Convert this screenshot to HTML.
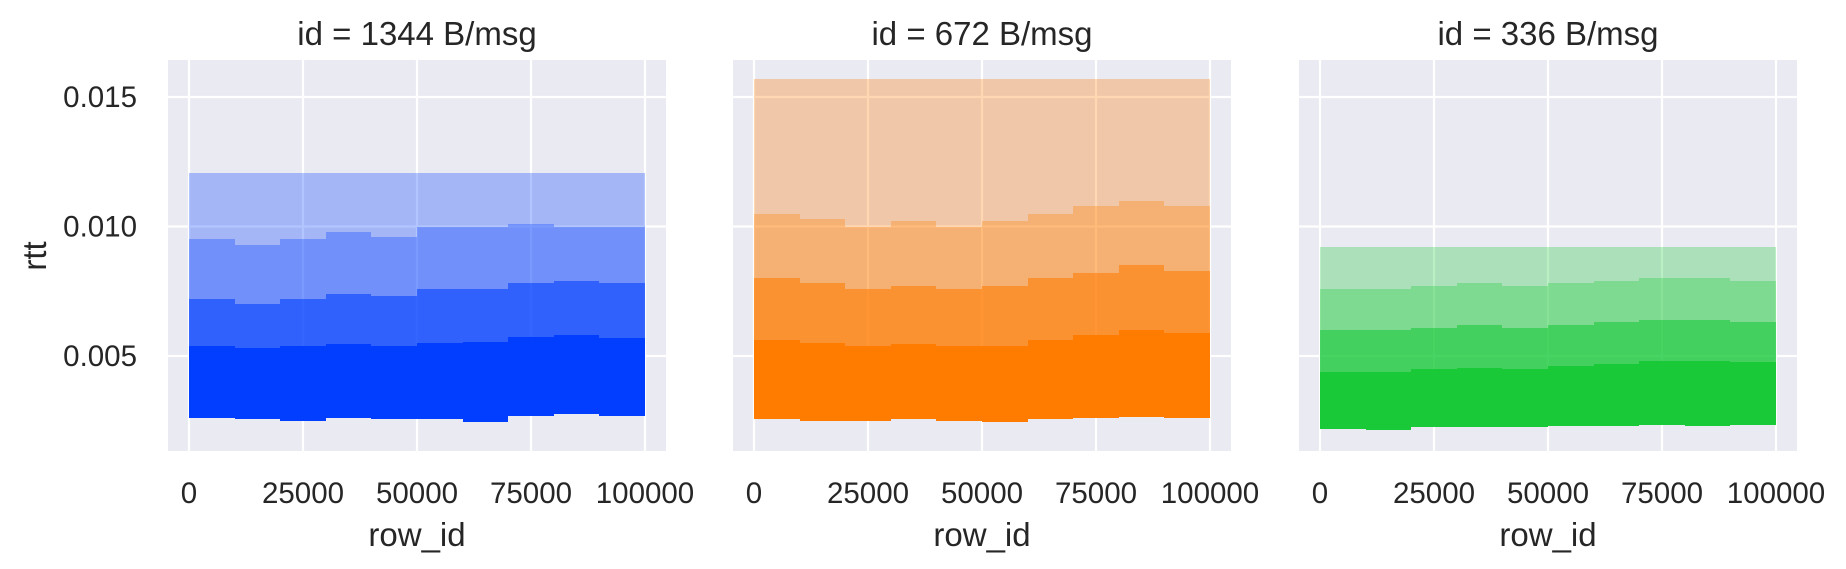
<!DOCTYPE html>
<html><head><meta charset="utf-8">
<style>
html,body{margin:0;padding:0;background:#fff;}
svg{display:block;font-family:"Liberation Sans",Arial,sans-serif;}
</style></head>
<body>
<svg id="chart" width="1846" height="569" viewBox="0 0 1846 569"></svg>
<script>
// ---- data (per x-bin summary of the rtt point cloud) ----
const panelTitles = ["id = 1344 B/msg", "id = 672 B/msg", "id = 336 B/msg"];
const seriesColors = ["#023eff", "#ff7c00", "#1ac938"];
const binStarts = [0, 10000, 20000, 30000, 40000, 50000, 60000, 70000, 80000, 90000];
const binWidth = 10000;
const xTicks = [0, 25000, 50000, 75000, 100000];
const xTickLabels = ["0", "25000", "50000", "75000", "100000"];
const yTicks = [0.005, 0.010, 0.015];
const yTickLabels = ["0.005", "0.010", "0.015"];
// blue (1344 B/msg)
const blueMin   = [0.00260,0.00255,0.00250,0.00260,0.00255,0.00255,0.00245,0.00270,0.00275,0.00270];
const blueSolid = [0.00540,0.00530,0.00540,0.00545,0.00540,0.00550,0.00555,0.00575,0.00580,0.00570];
const blueMid   = [0.00720,0.00700,0.00720,0.00740,0.00730,0.00760,0.00760,0.00780,0.00790,0.00780];
const blueDense = [0.00950,0.00930,0.00950,0.00980,0.00960,0.01000,0.01000,0.01010,0.01000,0.01000];
const blueMax   = [0.01205,0.01205,0.01205,0.01205,0.01205,0.01205,0.01205,0.01205,0.01205,0.01205];
// orange (672 B/msg)
const orangeMin   = [0.00255,0.00250,0.00250,0.00255,0.00250,0.00245,0.00255,0.00260,0.00265,0.00260];
const orangeSolid = [0.00560,0.00550,0.00540,0.00545,0.00540,0.00540,0.00560,0.00580,0.00600,0.00590];
const orangeMid   = [0.00800,0.00780,0.00760,0.00770,0.00760,0.00770,0.00800,0.00820,0.00850,0.00830];
const orangeDense = [0.01050,0.01030,0.01000,0.01020,0.01000,0.01020,0.01050,0.01080,0.01100,0.01080];
const orangeMax   = [0.01570,0.01570,0.01570,0.01570,0.01570,0.01570,0.01570,0.01570,0.01570,0.01570];
// green (336 B/msg)
const greenMin   = [0.00220,0.00215,0.00225,0.00225,0.00225,0.00230,0.00230,0.00235,0.00230,0.00235];
const greenSolid = [0.00440,0.00440,0.00450,0.00455,0.00450,0.00460,0.00470,0.00480,0.00480,0.00475];
const greenMid   = [0.00600,0.00600,0.00610,0.00620,0.00610,0.00620,0.00630,0.00640,0.00640,0.00630];
const greenDense = [0.00760,0.00760,0.00770,0.00780,0.00770,0.00780,0.00790,0.00800,0.00800,0.00790];
const greenMax   = [0.00920,0.00920,0.00920,0.00920,0.00920,0.00920,0.00920,0.00920,0.00920,0.00920];

const seriesBands = [
  [blueMin, blueSolid, blueMid, blueDense, blueMax],
  [orangeMin, orangeSolid, orangeMid, orangeDense, orangeMax],
  [greenMin, greenSolid, greenMid, greenDense, greenMax]
];
const bandOpacity = [1, 0.8, 0.52, 0.3];

// ---- layout ----
const NS = "http://www.w3.org/2000/svg";
const svg = document.getElementById("chart");
const panelLefts = [168, 733, 1299];
const panelW = 498, panelTop = 60, panelBottom = 451;
const xPad = 21;
const yDomain = [0.001332, 0.01643];

function mk(tag, attrs, parent) {
  const e = document.createElementNS(NS, tag);
  for (const k in attrs) e.setAttribute(k, attrs[k]);
  (parent || svg).appendChild(e);
  return e;
}
function yScale(v) {
  return panelBottom - (v - yDomain[0]) / (yDomain[1] - yDomain[0]) * (panelBottom - panelTop);
}

panelTitles.forEach((title, p) => {
  const L = panelLefts[p];
  const xScale = v => L + xPad + v / 100000 * (panelW - 2 * xPad);
  const g = mk("g", {});
  
  
  const bg = mk("rect", {x: L, y: panelTop, width: panelW, height: panelBottom - panelTop, fill: "#eaeaf2"}, g);
  
  
  xTicks.forEach((t, i) => {
    const x = xScale(t);
    const gl = mk("line", {x1: x, x2: x, y1: panelTop, y2: panelBottom, stroke: "#fff", "stroke-width": 2.2}, g);
    
    
    const tl = mk("text", {x: x, y: 503, "text-anchor": "middle", "font-size": 29.5, fill: "#262626"}, g);
    tl.textContent = xTickLabels[i];
    
    
  });
  yTicks.forEach((t, i) => {
    const y = yScale(t);
    const gl = mk("line", {x1: L, x2: L + panelW, y1: y, y2: y, stroke: "#fff", "stroke-width": 2.2}, g);
    
    
    if (p === 0) {
      const tl = mk("text", {x: 137, y: y + 10, "text-anchor": "end", "font-size": 29.5, fill: "#262626"}, g);
      tl.textContent = yTickLabels[i];
      
      
    }
  });
  // point cloud bands
  const bands = seriesBands[p];
  const sg = mk("g", {fill: seriesColors[p], "shape-rendering": "crispEdges"}, g);
  
  
  binStarts.forEach((b, i) => {
    const x0 = Math.round(xScale(b)), x1 = Math.round(xScale(b + binWidth));
    for (let k = 0; k < 4; k++) {
      const yLo = Math.round(yScale(bands[k][i])), yHi = Math.round(yScale(bands[k + 1][i]));
      const r = mk("rect", {x: x0, y: yHi, width: x1 - x0, height: yLo - yHi, "fill-opacity": bandOpacity[k]}, sg);
      
      
    }
  });
  const tt = mk("text", {x: L + panelW / 2, y: 45, "text-anchor": "middle", "font-size": 33, fill: "#262626"}, g);
  tt.textContent = title;
  
  
  const xl = mk("text", {x: L + panelW / 2, y: 546, "text-anchor": "middle", "font-size": 33, fill: "#262626"}, g);
  xl.textContent = "row_id";
  
  
});
const yl = mk("text", {x: 0, y: 0, "text-anchor": "middle", "font-size": 33, fill: "#262626", transform: "translate(46,256) rotate(-90)"});
yl.textContent = "rtt";


</script>
</body></html>
